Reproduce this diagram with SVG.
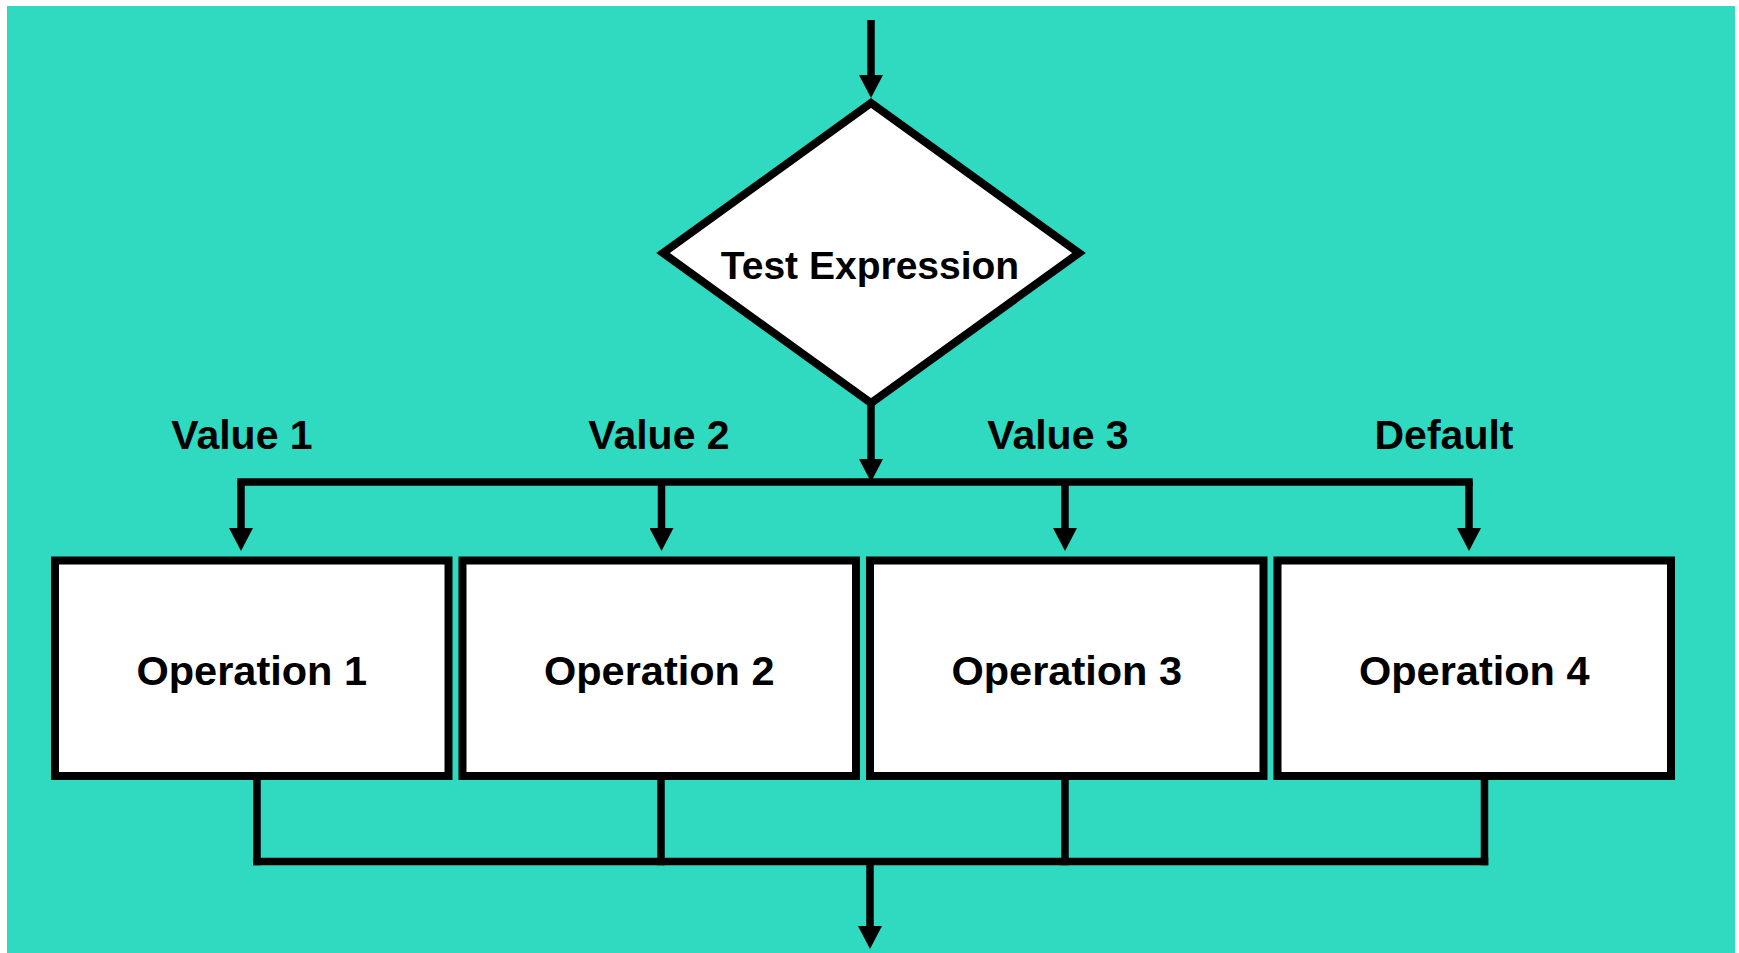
<svg xmlns="http://www.w3.org/2000/svg" width="1739" height="953" viewBox="0 0 1739 953">
  <style>
    .bg { fill: #2FDAC1; }
    .shape { fill: #FFFFFF; stroke: #000000; stroke-width: 8; stroke-linejoin: miter; }
    .wire { fill: none; stroke: #000000; stroke-width: 7.5; stroke-linecap: butt; }
    .lbl { font-family: "Liberation Sans", Arial, sans-serif; font-weight: bold; fill: #000000; text-anchor: middle; }
    .op { font-size: 41.5px; }
    .val { font-size: 41px; }
    .test { font-size: 39px; }
  </style>
  <defs>
    <!-- arrowhead: base sits at the line end, tip reaches 23px further -->
    <marker id="arrow" markerUnits="userSpaceOnUse" markerWidth="24" markerHeight="24" refX="0" refY="12" orient="auto" viewBox="0 0 24 24">
      <path d="M0,0 L23,12 L0,24 Z" fill="#000000"/>
    </marker>
  </defs>

  <rect class="bg" x="7" y="6" width="1728" height="947"/>

  <g id="connectors">
    <!-- entry -->
    <line class="wire" x1="871" y1="20" x2="871" y2="75" marker-end="url(#arrow)"/>
    <!-- decision to split bus -->
    <line class="wire" x1="871" y1="400" x2="871" y2="459" marker-end="url(#arrow)"/>
    <line class="wire" x1="237.25" y1="482" x2="1472.75" y2="482"/>
    <line class="wire" x1="241" y1="482" x2="241" y2="528" marker-end="url(#arrow)"/>
    <line class="wire" x1="661.5" y1="482" x2="661.5" y2="528" marker-end="url(#arrow)"/>
    <line class="wire" x1="1065" y1="482" x2="1065" y2="528" marker-end="url(#arrow)"/>
    <line class="wire" x1="1469" y1="482" x2="1469" y2="528" marker-end="url(#arrow)"/>
    <!-- merge bus -->
    <line class="wire" x1="257" y1="778" x2="257" y2="865.25"/>
    <line class="wire" x1="661" y1="778" x2="661" y2="865.25"/>
    <line class="wire" x1="1065" y1="778" x2="1065" y2="865.25"/>
    <line class="wire" x1="1484.5" y1="778" x2="1484.5" y2="865.25"/>
    <line class="wire" x1="253.25" y1="861.5" x2="1488.25" y2="861.5"/>
    <!-- exit -->
    <line class="wire" x1="870" y1="861.5" x2="870" y2="926" marker-end="url(#arrow)"/>
  </g>

  <g id="labels">
    <text class="lbl val" x="242" y="449">Value 1</text>
    <text class="lbl val" x="659" y="449">Value 2</text>
    <text class="lbl val" x="1058" y="449">Value 3</text>
    <text class="lbl val" x="1444" y="449">Default</text>
  </g>

  <g id="decision">
    <polygon class="shape" points="871,103 1079,253 871,403 663,253" stroke-width="7"/>
    <text class="lbl test" x="870" y="279">Test Expression</text>
  </g>

  <g id="op1">
    <rect class="shape" x="55" y="560.5" width="393.5" height="215.5"/>
    <text class="lbl op" x="251.75" y="685">Operation 1</text>
  </g>
  <g id="op2">
    <rect class="shape" x="462.5" y="560.5" width="393.5" height="215.5"/>
    <text class="lbl op" x="659.25" y="685">Operation 2</text>
  </g>
  <g id="op3">
    <rect class="shape" x="870" y="560.5" width="393.5" height="215.5"/>
    <text class="lbl op" x="1066.75" y="685">Operation 3</text>
  </g>
  <g id="op4">
    <rect class="shape" x="1277.5" y="560.5" width="393.5" height="215.5"/>
    <text class="lbl op" x="1474.25" y="685">Operation 4</text>
  </g>
</svg>
